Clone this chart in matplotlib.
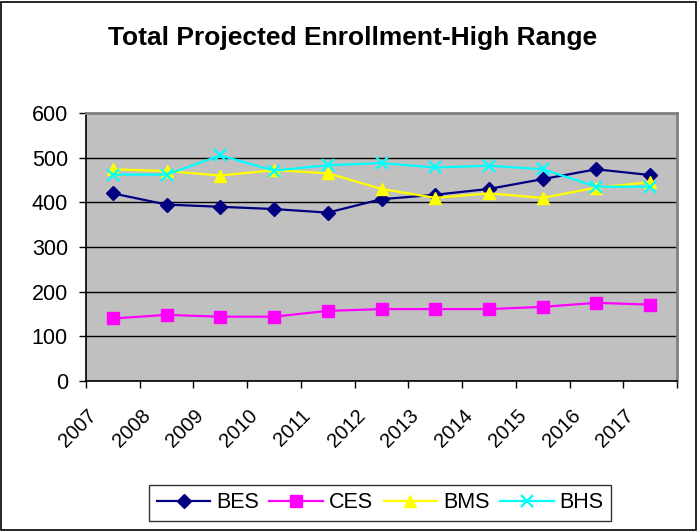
import numpy as np
import matplotlib
matplotlib.use("Agg")
import matplotlib.pyplot as plt
import matplotlib.transforms as mtransforms
from matplotlib.patches import Rectangle

# data
years = ["2007", "2008", "2009", "2010", "2011", "2012",
         "2013", "2014", "2015", "2016", "2017"]
bes = [420, 395, 390, 385, 377, 407, 417, 430, 452, 474, 461]
ces = [140, 148, 144, 144, 157, 161, 161, 161, 166, 175, 171]
bms = [474, 470, 460, 472, 465, 430, 410, 420, 410, 433, 445]
bhs = [462, 462, 505, 471, 483, 488, 478, 482, 474, 435, 435]

series_names = ["BES", "CES", "BMS", "BHS"]
series_colors = ["#000080", "#FF00FF", "#FFFF00", "#00FFFF"]
series_markers = ["D", "s", "^", "x"]

plt.rcParams['font.family'] = ['Liberation Sans', 'DejaVu Sans']

fig = plt.figure(figsize=(7.0, 5.31), dpi=100)
ax = fig.add_axes([86 / 700, 1 - 381 / 531, (677 - 86) / 700, (381 - 113) / 531])
ax.set_facecolor("#C0C0C0")

x = np.arange(len(years))
for vals, name, col, mk in zip([bes, ces, bms, bhs], series_names, series_colors, series_markers):
    ms = 9 if mk != "D" else 7.5
    ax.plot(x, vals, color=col, lw=1.6, marker=mk, markersize=ms,
            markeredgewidth=1.6 if mk == "x" else 1.0,
            markerfacecolor=col, markeredgecolor=col, label=name,
            clip_on=False, zorder=3)

ax.set_xlim(-0.5, len(years) - 0.5)
ax.set_ylim(0, 600)
ax.set_yticks(range(0, 601, 100))
ax.yaxis.grid(True, color="black", lw=1.0)
ax.set_axisbelow(True)

# year labels sit between the boundary ticks, shifted like Excel does
ax.set_xticks(x, labels=years, rotation=45, ha="center", va="center")
ax.set_xticks(np.arange(-0.5, len(years)), minor=True)
ax.tick_params(axis="x", which="major", length=0, pad=0, labelsize=14.5)
ax.tick_params(axis="x", which="minor", length=5, width=1, color="black")
ax.tick_params(axis="y", length=5, width=1, pad=8, labelsize=15.5)
offset = mtransforms.ScaledTranslation(-35 / 100, -47 / 100, fig.dpi_scale_trans)
for lab in ax.get_xticklabels():
    lab.set_transform(lab.get_transform() + offset)

for side in ["left", "bottom"]:
    ax.spines[side].set_color("black")
    ax.spines[side].set_linewidth(1.2)
for side in ["top", "right"]:
    ax.spines[side].set_color("#808080")
    ax.spines[side].set_linewidth(2)

fig.text(353 / 700, 1 - 38 / 531, "Total Projected Enrollment-High Range",
         ha="center", va="center", fontsize=19, fontweight="bold")

leg = fig.legend(loc="center", bbox_to_anchor=(380 / 700, 1 - 503 / 531), ncol=4,
                 fontsize=15.5, frameon=True, fancybox=False, handlelength=2.5,
                 handletextpad=0.25, columnspacing=0.5, borderpad=0.35)
leg.get_frame().set_edgecolor("black")
leg.get_frame().set_linewidth(1)

fig.add_artist(Rectangle((0.5 / 700, 1.5 / 531), 695 / 700, 528 / 531,
                         transform=fig.transFigure, fill=False, lw=1.2, ec="black"))

fig.savefig("out.png", dpi=100)
